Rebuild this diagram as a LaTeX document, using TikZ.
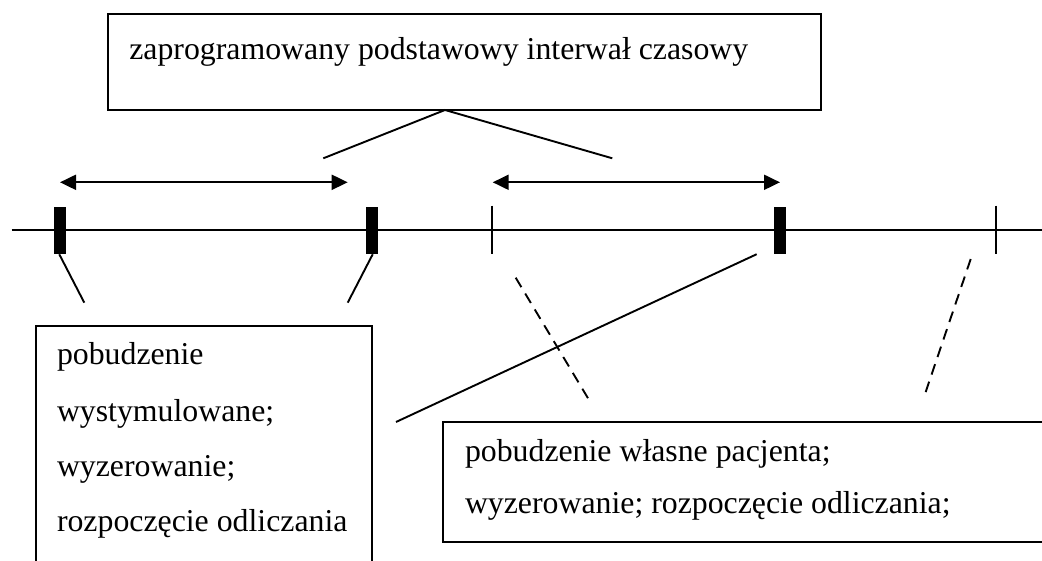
\documentclass[tikz,border=0pt]{standalone}
\usepackage{fontspec}
\setmainfont{Liberation Serif}
\usetikzlibrary{arrows.meta}
\tikzset{
  box/.style={draw, line width=2pt, rectangle, inner sep=0pt, outer sep=0pt, anchor=north west},
  txt/.style={anchor=base west, inner sep=0pt, outer sep=0pt, font=\fontsize{31.8}{36}\selectfont},
  marker/.style={fill=black, rectangle, inner sep=0pt, outer sep=0pt, minimum width=11.7pt, minimum height=47.3pt},
  conn/.style={line width=1.9pt},
  dconn/.style={line width=1.9pt, dash pattern=on 11pt off 7.5pt},
  tick/.style={line width=2pt},
  span/.style={line width=2pt, {Triangle[length=16pt,width=15pt]}-{Triangle[length=16pt,width=15pt]}}
}
\begin{document}
\begin{tikzpicture}[x=1pt,y=-1pt]
\useasboundingbox (0,0) rectangle (1042,561);
\fill[white] (0,0) rectangle (1042,561);
\clip (0,0) rectangle (1042,561);

% boxes
\node[box, minimum width=713pt, minimum height=96pt] (top) at (107.7,14) {};
\node[box, minimum width=335.7pt, minimum height=300pt] (lbox) at (36,325.7) {};
\node[box, minimum width=700pt, minimum height=120pt] (rbox) at (443.3,422.3) {};

% texts
\node[txt] (ttop) at (129.3,60) {zaprogramowany podstawowy interwał czasowy};
\node[txt] (l1) at (57,365) {pobudzenie};
\node[txt] (l2) at (57,421.7) {wystymulowane;};
\node[txt] (l3) at (57,476.7) {wyzerowanie;};
\node[txt] (l4) at (57,531.7) {rozpoczęcie odliczania};
\node[txt] (r1) at (465,461.7) {pobudzenie własne pacjenta;};
\node[txt] (r2) at (465,513.3) {wyzerowanie; rozpoczęcie odliczania;};

% timeline
\coordinate (tl0) at (11.7,230);
\coordinate (tl1) at (1050,230);
\draw[line width=2pt] (tl0) -- (tl1);
\node[marker] (m1) at (60,230.4) {};
\node[marker] (m2) at (371.8,230.4) {};
\node[marker] (m3) at (780.2,230.4) {};
\coordinate (k1a) at (492.3,205.7);
\coordinate (k1b) at (492.3,254.3);
\coordinate (k2a) at (996.3,205.7);
\coordinate (k2b) at (996.3,254.3);
\draw[tick] (k1a) -- (k1b);
\draw[tick] (k2a) -- (k2b);

% interval arrows
\coordinate (a1l) at (60,182.3);
\coordinate (a1r) at (347.7,182.3);
\coordinate (a2l) at (492.7,182.3);
\coordinate (a2r) at (780,182.3);
\draw[span] (a1l) -- (a1r);
\draw[span] (a2l) -- (a2r);

% connectors from top box
\coordinate (apex) at (445,110);
\coordinate (ta) at (323.3,158.3);
\coordinate (tb) at (612.3,158.3);
\draw[conn] (ta) -- (apex) -- (tb);

% connectors to left box
\coordinate (c1a) at (59.3,254.3);
\coordinate (c1b) at (84.3,302.7);
\coordinate (c2a) at (372.7,254.3);
\coordinate (c2b) at (347.7,302.7);
\draw[conn] (c1a) -- (c1b);
\draw[conn] (c2a) -- (c2b);
\coordinate (c3a) at (756.7,254.2);
\coordinate (c3b) at (396,422);
\draw[conn] (c3a) -- (c3b);

% dashed connectors to right box
\coordinate (d1a) at (515.7,277.7);
\coordinate (d1b) at (588.3,398.7);
\coordinate (d2a) at (970.7,259);
\coordinate (d2b) at (923.3,399);
\draw[dconn] (d1a) -- (d1b);
\draw[dconn] (d2a) -- (d2b);
\end{tikzpicture}
\end{document}
